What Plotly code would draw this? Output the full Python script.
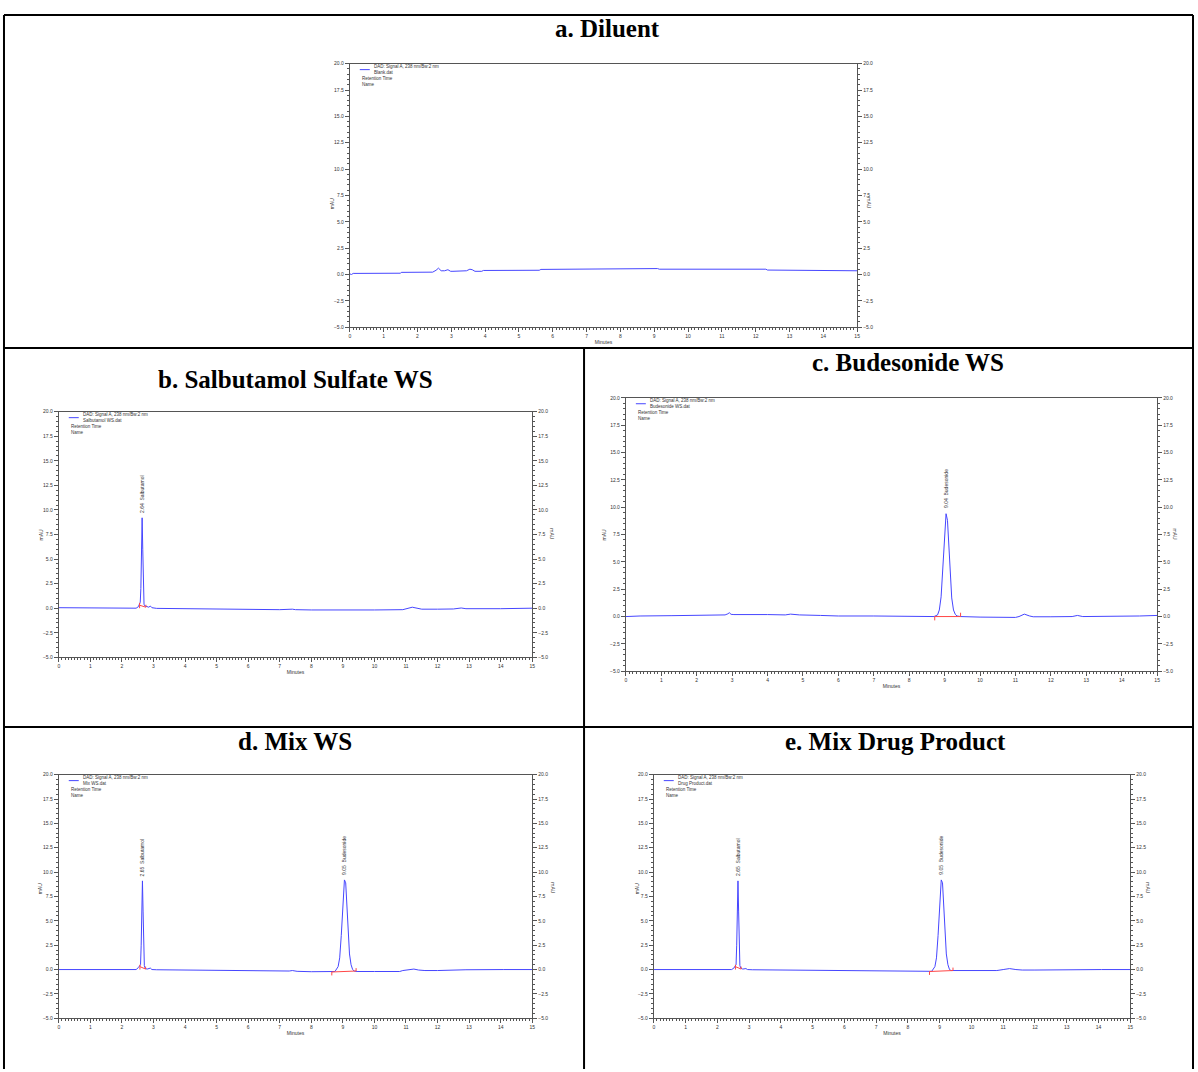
import plotly.graph_objects as go

W, H = 1198, 1072

# ---------------- data ----------------
titles = ["a. Diluent", "b. Salbutamol Sulfate WS", "c. Budesonide WS", "d. Mix WS", "e. Mix Drug Product"]
files = ["Blank.dat", "Salbutamol WS.dat", "Budesonide WS.dat", "Mix WS.dat", "Drug Product.dat"]
signal_label = "DAD: Signal A, 238 nm/Bw:2 nm"

a_t = [0, 0.05, 0.1, 1.5, 1.52, 2.45, 2.55, 2.62, 2.7, 2.8, 2.9, 2.98, 3.05, 3.45, 3.55, 3.62, 3.7, 3.9,
       3.95, 5.6, 5.65, 7.4, 7.45, 9.1, 9.15, 12.3, 12.35, 14.45, 14.5, 15]
a_v = [0.05, 0.0, 0.1, 0.12, 0.2, 0.22, 0.4, 0.6, 0.35, 0.35, 0.45, 0.3, 0.3, 0.35, 0.5, 0.45, 0.3, 0.3,
       0.38, 0.4, 0.48, 0.5, 0.56, 0.56, 0.5, 0.5, 0.42, 0.42, 0.35, 0.35]

b_t = [0, 0.8, 2.45, 2.52, 2.56, 2.58, 2.60, 2.62, 2.64, 2.66, 2.68, 2.70, 2.72, 2.78, 2.85, 2.90, 2.95, 3.1,
       4.0, 4.3, 4.4, 4.6, 4.7, 5.0, 6.0, 7.0, 7.4, 7.5, 8.0, 9.0, 10.0, 10.9, 11.05, 11.2, 11.35, 11.5,
       12.0, 12.5, 12.75, 12.9, 14.0, 14.8, 15]
b_v = [0.05, 0.02, 0.0, 0.15, 0.4, 0.6, 2.0, 6.5, 9.2, 6.0, 1.5, 0.4, 0.25, 0.15, 0.1, 0.22, 0.05, -0.02,
       -0.05, -0.1, -0.05, -0.08, -0.05, -0.1, -0.12, -0.15, -0.1, -0.15, -0.18, -0.2, -0.18, -0.15, -0.05,
       0.1, 0.0, -0.1, -0.1, -0.08, 0.02, -0.05, -0.05, 0.0, 0.0]

c_t = [0, 0.4, 1.3, 2.2, 2.8, 2.88, 2.92, 2.97, 3.05, 4.0, 4.5, 4.65, 4.75, 4.9, 5.5, 6.0, 7.0, 7.4, 7.5,
       8.0, 8.7, 8.8, 8.85, 8.9, 8.95, 9.0, 9.04, 9.08, 9.12, 9.16, 9.2, 9.25, 9.3, 9.35, 9.45, 10.0, 10.5,
       11.0, 11.1, 11.25, 11.4, 11.5, 12.0, 12.6, 12.75, 12.9, 14.5, 15]
c_v = [0.0, 0.05, 0.08, 0.12, 0.15, 0.25, 0.35, 0.2, 0.18, 0.18, 0.15, 0.22, 0.18, 0.15, 0.1, 0.05, 0.05,
       0.05, 0.0, 0.0, 0.0, 0.15, 0.6, 1.8, 4.5, 7.8, 9.4, 8.8, 6.3, 3.6, 1.7, 0.6, 0.2, 0.05, 0.0, -0.05,
       -0.08, -0.08, 0.0, 0.22, 0.05, -0.02, -0.02, 0.0, 0.1, 0.0, 0.05, 0.1]

d_t = [0, 0.9, 2.45, 2.52, 2.56, 2.59, 2.61, 2.63, 2.65, 2.67, 2.69, 2.71, 2.74, 2.8, 2.9, 2.95, 3.1, 4.0,
       4.25, 4.35, 4.5, 4.65, 4.75, 5.0, 6.0, 6.3, 7.0, 7.3, 7.4, 7.55, 8.0, 8.5, 8.75, 8.85, 8.9, 8.95,
       9.0, 9.05, 9.09, 9.13, 9.17, 9.21, 9.26, 9.31, 9.36, 9.45, 10.0, 10.8, 10.9, 11.1, 11.25, 11.4, 11.6,
       12.0, 12.6, 12.75, 12.9, 14.1, 15]
d_v = [0.0, 0.0, 0.0, 0.2, 0.45, 0.5, 2.5, 7.0, 9.1, 6.0, 1.5, 0.4, 0.1, 0.05, 0.15, 0.0, -0.02, -0.05,
       -0.1, -0.05, -0.08, -0.05, -0.08, -0.1, -0.1, -0.15, -0.15, -0.15, -0.1, -0.18, -0.22, -0.25, -0.2,
       0.3, 1.2, 3.5, 6.8, 9.2, 8.9, 6.6, 3.8, 1.6, 0.5, 0.0, -0.15, -0.2, -0.2, -0.2, -0.1, -0.05, 0.05,
       -0.05, -0.1, -0.1, -0.05, 0.02, -0.02, 0.0, 0.0]

e_t = [0, 0.9, 2.45, 2.52, 2.56, 2.59, 2.61, 2.63, 2.65, 2.67, 2.69, 2.71, 2.74, 2.8, 2.9, 2.95, 3.1, 4.0,
       4.6, 5.0, 6.0, 7.0, 7.3, 7.4, 7.55, 8.0, 8.5, 8.75, 8.85, 8.9, 8.95, 9.0, 9.05, 9.09, 9.13, 9.17,
       9.21, 9.26, 9.31, 9.36, 9.45, 10.0, 10.8, 11.0, 11.2, 11.4, 11.6, 12.0, 12.7, 12.85, 13.0, 14.1, 15]
e_v = [0.0, 0.0, 0.0, 0.15, 0.4, 0.5, 2.5, 7.0, 9.1, 6.0, 1.5, 0.4, 0.15, 0.05, 0.1, 0.0, -0.02, -0.05,
       -0.05, -0.08, -0.1, -0.12, -0.12, -0.1, -0.15, -0.18, -0.2, -0.18, 0.3, 1.2, 3.5, 6.8, 9.2, 8.9,
       6.6, 3.8, 1.6, 0.5, 0.0, -0.1, -0.1, -0.1, -0.1, 0.0, 0.1, 0.0, -0.05, -0.05, -0.02, 0.02, -0.02,
       0.0, 0.0]

series_t = [a_t, b_t, c_t, d_t, e_t]
series_v = [a_v, b_v, c_v, d_v, e_v]

# integration baselines (red)
base_t = [[], [2.56, 2.56, None, 2.56, 2.76, None, 2.76, 2.76],
          [8.72, 8.72, None, 8.72, 9.45, None, 9.45, 9.45],
          [2.57, 2.57, None, 2.57, 2.75, None, 2.75, 2.75, None, 8.65, 8.65, None, 8.65, 9.42, None, 9.42, 9.42],
          [2.57, 2.57, None, 2.57, 2.75, None, 2.75, 2.75, None, 8.68, 8.68, None, 8.68, 9.42, None, 9.42, 9.42]]
base_v = [[], [0.0, 0.55, None, 0.3, 0.1, None, 0.1, 0.35],
          [-0.35, 0.0, None, 0.0, 0.0, None, 0.0, 0.35],
          [0.0, 0.5, None, 0.3, 0.05, None, 0.05, 0.3, None, -0.6, -0.25, None, -0.25, -0.15, None, -0.15, 0.15],
          [0.0, 0.5, None, 0.3, 0.05, None, 0.05, 0.3, None, -0.55, -0.2, None, -0.2, -0.1, None, -0.1, 0.2]]

# peak labels
peak_rt = [[], [2.64], [9.04], [2.65, 9.05], [2.65, 9.05]]
peak_h = [[], [9.2], [9.4], [9.1, 9.2], [9.1, 9.2]]
peak_lab = [[], ["2.64  Salbutamol"], ["9.04  Budesonide"],
            ["2.65  Salbutamol", "9.05  Budesonide"], ["2.65  Salbutamol", "9.05  Budesonide"]]

x_ticks = list(range(0, 16))
y_ticks = [-5.0, -2.5, 0.0, 2.5, 5.0, 7.5, 10.0, 12.5, 15.0, 17.5, 20.0]

# ---------------- layout geometry (pixels) ----------------
panels = [  # left, right, top, bottom
    (350, 859, 61, 326),
    (58, 533, 411, 658),
    (627, 1160, 397, 672),
    (58, 533, 776, 1021),
    (655, 1133, 776, 1021),
]
title_pos = [(609, 26), (295, 379), (910, 362), (295, 743), (897, 743)]
mau_left = [22, 23, 22, 23, 16]
mau_right = [17, 20, 23, 20, 22]

BLUE = "rgb(70,70,255)"
RED = "rgb(255,70,70)"
AX = "#555555"
TF = dict(family="Liberation Sans, Arial", size=5, color="#333333")
LF = dict(family="Liberation Sans, Arial", size=4.5, color="#333333")


def px(x):
    return x / W


def py(y):
    return 1 - y / H


fig = go.Figure()
layout = {}
annotations = []
shapes = []

for i in range(5):
    n = i + 1
    xs = "" if n == 1 else str(n)
    l, r, t, b = panels[i]
    fig.add_trace(go.Scatter(x=series_t[i], y=series_v[i], mode="lines",
                             line=dict(color=BLUE, width=1), xaxis="x" + xs, yaxis="y" + xs,
                             showlegend=False, hoverinfo="skip"))
    if base_t[i]:
        fig.add_trace(go.Scatter(x=base_t[i], y=base_v[i], mode="lines",
                                 line=dict(color=RED, width=1), xaxis="x" + xs, yaxis="y" + xs,
                                 showlegend=False, hoverinfo="skip", connectgaps=False))
    # dummy trace for right axis
    fig.add_trace(go.Scatter(x=[0], y=[0], mode="markers", marker=dict(opacity=0),
                             xaxis="x" + xs, yaxis="y" + str(n + 5), showlegend=False, hoverinfo="skip"))

    common_y = dict(range=[-5, 20], tickvals=y_ticks, tickformat=".1f", showgrid=False, zeroline=False,
                    showline=True, linecolor=AX, linewidth=1, ticks="outside", ticklen=4, tickcolor=AX,
                    tickwidth=1, tickfont=TF, fixedrange=True,
                    minor=dict(dtick=0.5, ticklen=2, tickcolor=AX, ticks="outside", showgrid=False))
    layout["xaxis" + xs] = dict(domain=[px(l), px(r)], range=[0, 15], tickvals=x_ticks, anchor="y" + xs,
                                showgrid=False, zeroline=False, showline=True, mirror=True, linecolor=AX,
                                linewidth=1, ticks="outside", ticklen=4, tickcolor=AX, tickwidth=1,
                                tickfont=TF, fixedrange=True,
                                title=dict(text="Minutes", font=TF, standoff=2),
                                minor=dict(dtick=0.1, ticklen=2, tickcolor=AX, ticks="outside", showgrid=False))
    layout["yaxis" + xs] = dict(domain=[py(b), py(t)], anchor="x" + xs, side="left", **common_y)
    layout["yaxis" + str(n + 5)] = dict(overlaying="y" + xs, anchor="x" + xs, side="right", **common_y)

    # mAU labels
    annotations.append(dict(text="mAU", x=px(l - mau_left[i]), y=py((t + b) / 2), xref="paper", yref="paper",
                            showarrow=False, textangle=-90, font=TF))
    annotations.append(dict(text="mAU", x=px(r + mau_right[i]), y=py((t + b) / 2), xref="paper", yref="paper",
                            showarrow=False, textangle=90, font=TF))
    # legend block (pixel offsets from the plot's top-left corner)
    shapes.append(dict(type="line", xref="paper", yref="paper", x0=px(l + 10), x1=px(l + 20),
                       y0=py(t + 6), y1=py(t + 6), line=dict(color=BLUE, width=1)))
    for txt, dx, dy in [(signal_label, 22, 3), (files[i], 22, 8.5), ("Retention Time", 10, 14.5), ("Name", 10, 20.5)]:
        annotations.append(dict(text=txt, x=px(l + dx), y=py(t + dy), xref="paper", yref="paper",
                                showarrow=False, xanchor="left", yanchor="middle", font=LF))
    # peak labels
    xa = "x" + xs
    ya = "y" + xs
    for rt, h, lab in zip(peak_rt[i], peak_h[i], peak_lab[i]):
        annotations.append(dict(text=lab, x=rt, y=h + 0.3, xref=xa, yref=ya, showarrow=False,
                                textangle=-90, xanchor="center", yanchor="bottom", font=TF))
    # titles
    tx, ty = title_pos[i]
    annotations.append(dict(text="<b>" + titles[i] + "</b>", x=px(tx), y=py(ty), xref="paper", yref="paper",
                            showarrow=False, xanchor="center", yanchor="middle",
                            font=dict(family="Liberation Serif, Times New Roman", size=25, color="black")))

# table grid lines
grid = [(3, 12, 1196, 12), (3, 12, 3, 1072), (1196, 12, 1196, 1072), (3, 347, 1196, 347),
        (3, 728, 1196, 728), (585, 347, 585, 1072)]
for x0, y0, x1, y1 in grid:
    shapes.append(dict(type="line", xref="paper", yref="paper", x0=px(x0), y0=py(y0), x1=px(x1), y1=py(y1),
                       line=dict(color="black", width=2)))

fig.update_layout(width=W, height=H, margin=dict(l=0, r=0, t=0, b=0), paper_bgcolor="white",
                  plot_bgcolor="white", showlegend=False, annotations=annotations, shapes=shapes, **layout)

fig.write_html("out.html", config={"displayModeBar": False})
